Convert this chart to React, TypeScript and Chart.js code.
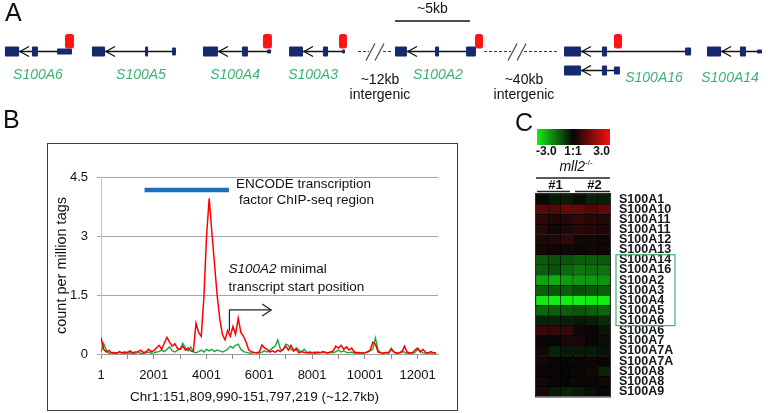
import React, { useEffect, useRef } from 'react';
import { Chart, registerables } from 'chart.js';

Chart.register(...registerables);

const FONT = "'Liberation Sans', Arial, Helvetica, sans-serif";

// ---------------- Panel A : gene track (positions in kb of the schematic) ----------------
const genes = [
  { name: 'S100A6', row: 0, intron: [1.27, 4.8], exons: [[0.33, 1.27, 'big'], [2.13, 2.53, 'big'], [3.8, 4.8, 'thin']], tss: [4.33, 4.93], labelAt: 2.53, labelRow: 0 },
  { name: 'S100A5', row: 0, intron: [7.0, 11.73], exons: [[6.13, 7.0, 'big'], [9.67, 9.87, 'big'], [11.47, 11.73, 'mid']], tss: null, labelAt: 9.4, labelRow: 0 },
  { name: 'S100A4', row: 0, intron: [14.53, 18.07], exons: [[13.53, 14.53, 'big'], [16.13, 16.53, 'big'], [17.8, 18.07, 'tiny']], tss: [17.53, 18.13], labelAt: 15.67, labelRow: 0 },
  { name: 'S100A3', row: 0, intron: [20.2, 23.0], exons: [[19.27, 20.2, 'big'], [21.53, 21.87, 'big'], [22.8, 23.0, 'tiny']], tss: [22.6, 23.13], labelAt: 20.87, labelRow: 0 },
  { name: 'S100A2', row: 0, intron: [27.13, 31.73], exons: [[26.33, 27.13, 'big'], [29.0, 29.27, 'big'], [31.07, 31.73, 'big']], tss: [31.67, 32.2], labelAt: 29.2, labelRow: 0 },
  { name: 'S100A16', row: 0, intron: [38.73, 46.07], exons: [[37.6, 38.73, 'big'], [40.13, 40.47, 'big'], [45.67, 46.07, 'mid']], tss: [40.93, 41.47], labelAt: null, labelRow: 1 },
  { name: 'S100A16', row: 1, intron: [38.73, 41.33], exons: [[37.6, 38.73, 'big'], [40.13, 40.47, 'big'], [40.93, 41.33, 'mid']], tss: null, labelAt: 43.6, labelRow: 1 },
  { name: 'S100A14', row: 0, intron: [48.07, 50.8], exons: [[47.13, 48.07, 'big'], [49.33, 49.73, 'big'], [50.47, 50.8, 'tiny']], tss: null, labelAt: 48.67, labelRow: 1 },
];
const trackBreaks = [
  { from: 23.87, to: 26.13, at: 25.0 },
  { from: 32.27, to: 37.13, at: 34.47 },
];
const intergenicLabels = [
  { text: '~12kb', at: 25.33 },
  { text: '~40kb', at: 34.93 },
];
const scaleBar = { from: 26.33, to: 31.33, text: '~5kb' };
const trackSpanKb = 51.2;

// ---------------- Panel B : ChIP-seq profile ----------------
const binStart = 1;
const binSize = 100;
const regionLength = 12772;
const redCounts = [
  0.42, 0.12, 0.05, 0.09, 0.03, 0.04, 0.02, 0.06, 0.03, 0.05,
  0.04, 0.08, 0.03, 0.05, 0.06, 0.1, 0.04, 0.05, 0.12, 0.06,
  0.08, 0.15, 0.22, 0.12, 0.28, 0.42, 0.3, 0.2, 0.26, 0.14,
  0.12, 0.2, 0.1, 0.15, 0.08, 0.06, 0.78, 0.55, 0.45, 1.45,
  3.0, 3.96, 3.1, 2.3, 1.5, 0.9, 0.5, 0.36, 0.6, 0.45,
  0.7, 0.5, 0.91, 0.55, 0.45, 0.3, 0.1, 0.06, 0.04, 0.03,
  0.05, 0.23, 0.15, 0.12, 0.05, 0.08, 0.04, 0.1, 0.06, 0.12,
  0.2, 0.1, 0.22, 0.08, 0.12, 0.03, 0.06, 0.04, 0.03, 0.05,
  0.04, 0.02, 0.05, 0.03, 0.06, 0.04, 0.03, 0.05, 0.08, 0.2,
  0.15, 0.22, 0.12, 0.18, 0.1, 0.15, 0.05, 0.03, 0.04, 0.02,
  0.03, 0.05, 0.1, 0.3, 0.25, 0.05, 0.03, 0.02, 0.04, 0.03,
  0.12, 0.05, 0.02, 0.03, 0.04, 0.2, 0.05, 0.02, 0.03, 0.1,
  0.15, 0.05, 0.12, 0.04, 0.02, 0.06, 0.03, 0.02,
];
const greenCounts = [
  0.05, 0.27, 0.1, 0.02, 0.03, 0.01, 0.02, 0.04, 0.02, 0.01,
  0.02, 0.03, 0.01, 0.02, 0.04, 0.02, 0.01, 0.03, 0.05, 0.02,
  0.03, 0.05, 0.06, 0.1, 0.06, 0.12, 0.18, 0.08, 0.05, 0.1,
  0.12, 0.27, 0.15, 0.08, 0.18, 0.05, 0.03, 0.06, 0.1, 0.05,
  0.12, 0.08, 0.12, 0.06, 0.1, 0.08, 0.05, 0.08, 0.12, 0.2,
  0.15, 0.22, 0.25, 0.12, 0.06, 0.04, 0.03, 0.02, 0.04, 0.03,
  0.02, 0.05, 0.08, 0.05, 0.1, 0.15, 0.2, 0.36, 0.12, 0.1,
  0.25, 0.22, 0.12, 0.08, 0.16, 0.1, 0.05, 0.12, 0.04, 0.02,
  0.03, 0.05, 0.02, 0.04, 0.03, 0.05, 0.02, 0.04, 0.03, 0.06,
  0.1, 0.05, 0.08, 0.04, 0.03, 0.05, 0.02, 0.03, 0.02, 0.04,
  0.03, 0.05, 0.08, 0.12, 0.41, 0.1, 0.03, 0.02, 0.04, 0.03,
  0.15, 0.05, 0.02, 0.03, 0.08, 0.04, 0.02, 0.03, 0.02, 0.04,
  0.12, 0.08, 0.03, 0.02, 0.04, 0.02, 0.03, 0.02,
];
const xTickPositions = [1, 1001, 2001, 3001, 4001, 5001, 6001, 7001, 8001, 9001, 10001, 11001, 12001];
const xLabelledTicks = [1, 2001, 4001, 6001, 8001, 10001, 12001];
const yTickValues = [0, 1.5, 3, 4.5];
const xTitle = 'Chr1:151,809,990-151,797,219 (~12.7kb)';
const yTitle = 'count per million tags';
const encodeRegion = [1650, 4850];
const encodeLevel = 4.17;
const encodeText = ['ENCODE transcription', 'factor ChIP-seq region'];
const encodeTextAt = [[5116, 4.32], [5230, 3.92]];
const tssArrow = { pos: 4868, from: 0.58, to: 1.12, end: 6450 };
const tssTextAt = [[4829, 2.16], [4829, 1.7]];

// ---------------- Panel C : heat map ----------------
const heatColumns = ['#1-1', '#1-2', '#1-3', '#2-1', '#2-2', '#2-3'];
const rowLabels = [
  'S100A1', 'S100A10', 'S100A11', 'S100A11', 'S100A12', 'S100A13', 'S100A14', 'S100A16', 'S100A2', 'S100A3',
  'S100A4', 'S100A5', 'S100A6', 'S100A6', 'S100A7', 'S100A7A', 'S100A7A', 'S100A8', 'S100A8', 'S100A9',
];
const heatValues = [
  [0.05, -0.25, -0.3, -0.1, -0.35, -0.3],
  [1.0, 0.95, 1.2, 1.15, 0.9, 1.1],
  [0.5, 0.3, 0.4, 0.55, 0.45, 0.4],
  [0.45, 0.2, 0.3, 0.5, 0.4, 0.3],
  [0.3, 0.4, 0.55, 0.15, 0.15, 0.1],
  [0.2, 0.15, 0.15, 0.1, 0.15, 0.15],
  [-1.05, -0.95, -1.0, -1.1, -1.1, -1.05],
  [-1.1, -0.95, -1.25, -1.4, -1.3, -1.35],
  [-2.0, -2.1, -1.9, -1.85, -1.85, -1.8],
  [-1.1, -1.0, -1.1, -0.9, -1.0, -1.1],
  [-2.85, -2.9, -2.9, -2.95, -2.85, -2.9],
  [-1.2, -1.1, -1.1, -1.0, -1.1, -1.2],
  [-0.35, -0.35, -0.35, -0.25, -0.3, -0.45],
  [0.65, 0.6, 0.6, 0.15, 0.05, -0.2],
  [0.05, 0.0, 0.25, 0.25, 0.05, -0.1],
  [0.15, -0.35, -0.25, -0.25, -0.25, -0.15],
  [0.15, 0.05, 0.0, 0.05, 0.1, 0.0],
  [0.05, 0.0, 0.0, 0.05, 0.15, -0.35],
  [0.15, 0.05, 0.0, 0.05, 0.05, 0.15],
  [0.25, -0.25, -0.35, -0.25, -0.15, 0.0],
];
const colorScaleLabels = ['-3.0', '1:1', '3.0'];
const colorScaleMax = 3;
const highlightRows = [6, 12];
const groupLabels = ['#1', '#2'];

// ---------------- styles ----------------
const NAVY = '#152a6e';
const TSS_RED = '#ff1414';
const GENE_GREEN = '#3cb374';
const exonHeight: Record<string, number> = { big: 10, mid: 8, thin: 6, tiny: 4 };
const trackRowY = [51.5, 70.5];
const labelRowY = [75, 78];

function heatColor(v: number) {
  const t = Math.max(-1, Math.min(1, v / colorScaleMax));
  const base = 6;
  if (t < 0) {
    const g = Math.round(base + -t * (245 - base));
    const rb = Math.round(base + -t * 14);
    return `rgb(${rb},${g},${rb})`;
  }
  const r = Math.round(base + t * (245 - base));
  const gb = Math.round(base + t * 10);
  return `rgb(${r},${gb},${gb})`;
}

// ---------------- Panel A chart ----------------
const geneTrackPlugin = {
  id: 'geneTrack',
  afterDatasetsDraw(chart: any) {
    const { ctx, scales } = chart;
    const px = (v: number) => scales.x.getPixelForValue(v);
    const py = (v: number) => scales.y.getPixelForValue(v);
    ctx.save();
    trackBreaks.forEach((b) => {
      const yc = py(trackRowY[0]);
      ctx.strokeStyle = '#333';
      ctx.lineWidth = 1;
      ctx.setLineDash([3, 2]);
      ctx.beginPath();
      ctx.moveTo(px(b.from), yc);
      ctx.lineTo(px(b.to), yc);
      ctx.stroke();
      ctx.setLineDash([]);
      const c = px(b.at);
      ctx.fillStyle = '#fff';
      ctx.fillRect(c - 6, yc - 3, 12, 6);
      ctx.strokeStyle = '#444';
      ctx.lineWidth = 1.2;
      [-4.5, 4.5].forEach((dx) => {
        ctx.beginPath();
        ctx.moveTo(c + dx - 4.5, yc + 9);
        ctx.lineTo(c + dx + 4.5, yc - 8);
        ctx.stroke();
      });
    });
    genes.forEach((g) => {
      const yc = py(trackRowY[g.row]);
      ctx.strokeStyle = '#111';
      ctx.lineWidth = 1.3;
      ctx.beginPath();
      ctx.moveTo(px(g.intron[0]), yc);
      ctx.lineTo(px(g.intron[1]), yc);
      ctx.stroke();
      const tip = px(g.intron[0]) + 1;
      ctx.beginPath();
      ctx.moveTo(tip + 9, yc - 5);
      ctx.lineTo(tip, yc);
      ctx.lineTo(tip + 9, yc + 5);
      ctx.stroke();
      ctx.fillStyle = NAVY;
      g.exons.forEach((e: any) => {
        const h = exonHeight[e[2]];
        const x0 = px(e[0]);
        const x1 = px(e[1]);
        ctx.beginPath();
        ctx.roundRect(x0, yc - h / 2, x1 - x0, h, 1);
        ctx.fill();
      });
      if (g.tss) {
        const x0 = px(g.tss[0]);
        const x1 = px(g.tss[1]);
        ctx.fillStyle = TSS_RED;
        ctx.beginPath();
        ctx.roundRect(x0, yc - 17.5, x1 - x0, 14.5, 2.5);
        ctx.fill();
      }
      if (g.labelAt !== null) {
        ctx.fillStyle = GENE_GREEN;
        ctx.font = `italic 14px ${FONT}`;
        ctx.textAlign = 'center';
        ctx.textBaseline = 'middle';
        ctx.fillText(g.name, px(g.labelAt), py(labelRowY[g.labelRow]));
      }
    });
    ctx.fillStyle = '#111';
    ctx.font = `14px ${FONT}`;
    ctx.textAlign = 'center';
    ctx.textBaseline = 'middle';
    intergenicLabels.forEach((l) => {
      ctx.fillText(l.text, px(l.at), py(80));
      ctx.fillText('intergenic', px(l.at), py(95));
    });
    ctx.strokeStyle = '#111';
    ctx.lineWidth = 1.3;
    ctx.beginPath();
    ctx.moveTo(px(scaleBar.from), py(21));
    ctx.lineTo(px(scaleBar.to), py(21));
    ctx.stroke();
    ctx.fillText(scaleBar.text, px((scaleBar.from + scaleBar.to) / 2), py(9));
    ctx.restore();
  },
};

function GeneTrack() {
  const ref = useRef<HTMLCanvasElement>(null);
  useEffect(() => {
    const chart = new Chart(ref.current!, {
      type: 'scatter',
      data: { datasets: [] },
      options: {
        responsive: false,
        animation: false,
        devicePixelRatio: 1,
        layout: { padding: 0 },
        scales: {
          x: { type: 'linear', min: 0, max: trackSpanKb, display: false },
          y: { type: 'linear', min: 0, max: 110, reverse: true, display: false },
        },
        plugins: { legend: { display: false }, tooltip: { enabled: false } },
      },
      plugins: [geneTrackPlugin],
    } as any);
    return () => chart.destroy();
  }, []);
  return <canvas ref={ref} width={768} height={110} style={{ position: 'absolute', left: 0, top: 0, width: 768, height: 110 }} />;
}

// ---------------- Panel B chart ----------------
const chipAnnotations = {
  id: 'chipAnnotations',
  afterDatasetsDraw(chart: any) {
    const { ctx, scales, chartArea } = chart;
    const px = (v: number) => scales.x.getPixelForValue(v);
    const py = (v: number) => scales.y.getPixelForValue(v);
    ctx.save();
    ctx.strokeStyle = '#1f6fb8';
    ctx.lineWidth = 4.5;
    ctx.beginPath();
    ctx.moveTo(px(encodeRegion[0]), py(encodeLevel));
    ctx.lineTo(px(encodeRegion[1]), py(encodeLevel));
    ctx.stroke();

    ctx.fillStyle = '#111';
    ctx.textAlign = 'left';
    ctx.textBaseline = 'middle';
    ctx.font = `13.5px ${FONT}`;
    encodeText.forEach((t, i) => ctx.fillText(t, px(encodeTextAt[i][0]), py(encodeTextAt[i][1])));

    const x0 = px(tssTextAt[0][0]);
    ctx.font = `italic 13.5px ${FONT}`;
    ctx.fillText('S100A2', x0, py(tssTextAt[0][1]));
    const w = ctx.measureText('S100A2').width;
    ctx.font = `13.5px ${FONT}`;
    ctx.fillText(' minimal', x0 + w, py(tssTextAt[0][1]));
    ctx.fillText('transcript start position', px(tssTextAt[1][0]), py(tssTextAt[1][1]));

    ctx.strokeStyle = '#222';
    ctx.lineWidth = 1.2;
    const ax = px(tssArrow.pos);
    const ay = py(tssArrow.to);
    const ex = px(tssArrow.end);
    ctx.beginPath();
    ctx.moveTo(ax, py(tssArrow.from));
    ctx.lineTo(ax, ay);
    ctx.lineTo(ex, ay);
    ctx.stroke();
    ctx.beginPath();
    ctx.moveTo(ex - 9, ay - 6);
    ctx.lineTo(ex, ay);
    ctx.lineTo(ex - 9, ay + 6);
    ctx.stroke();

    ctx.font = `13.5px ${FONT}`;
    ctx.textAlign = 'center';
    ctx.fillText(xTitle, chart.width / 2 + 2, chartArea.bottom + 43);
    ctx.restore();
  },
};

function ChipSeqChart() {
  const ref = useRef<HTMLCanvasElement>(null);
  useEffect(() => {
    const positions = redCounts.map((_, i) => binStart + i * binSize);
    const chart = new Chart(ref.current!, {
      type: 'line',
      data: {
        datasets: [
          { label: 'red', data: positions.map((p, i) => ({ x: p, y: redCounts[i] })), borderColor: '#ff0000', borderWidth: 1.5, pointRadius: 0, tension: 0, order: 0 },
          { label: 'green', data: positions.map((p, i) => ({ x: p, y: greenCounts[i] })), borderColor: '#1fa33c', borderWidth: 1.4, pointRadius: 0, tension: 0, order: 1 },
        ],
      },
      options: {
        responsive: false,
        animation: false,
        devicePixelRatio: 1,
        layout: { padding: { top: 33, right: 19, left: 0, bottom: 0 } },
        scales: {
          x: {
            type: 'linear',
            min: 1,
            max: regionLength,
            afterBuildTicks: (s: any) => { s.ticks = xTickPositions.map((v) => ({ value: v })); },
            afterFit: (s: any) => { s.height = 56; },
            grid: { drawOnChartArea: false, drawTicks: true, tickLength: 5, color: '#8a8a8a' },
            border: { color: '#9a9a9a' },
            ticks: {
              autoSkip: false,
              maxRotation: 0,
              padding: 9,
              color: '#111',
              font: { family: FONT, size: 13 },
              callback: (v: any) => (xLabelledTicks.includes(v) ? String(v) : ''),
            },
          },
          y: {
            min: 0,
            max: 4.5,
            afterBuildTicks: (s: any) => { s.ticks = yTickValues.map((v) => ({ value: v })); },
            afterFit: (s: any) => { s.width = 53; },
            grid: { color: '#a6a6a6', tickLength: 4 },
            border: { color: '#c4c4c4' },
            ticks: { padding: 9, color: '#111', font: { family: FONT, size: 13 } },
            title: { display: true, text: yTitle, color: '#111', font: { family: FONT, size: 14.5 }, padding: { top: 5.6, bottom: 0 } },
          },
        },
        plugins: { legend: { display: false }, tooltip: { enabled: false } },
      },
      plugins: [chipAnnotations],
    } as any);
    return () => chart.destroy();
  }, []);
  return (
    <div style={{ position: 'absolute', left: 47, top: 143, width: 409, height: 266, border: '1px solid #3c3c3c', background: '#fff' }}>
      <canvas ref={ref} width={409} height={266} style={{ display: 'block', width: 409, height: 266 }} />
    </div>
  );
}

// ---------------- Panel C chart ----------------
const heatDecor = {
  id: 'heatDecor',
  afterDatasetsDraw(chart: any) {
    const { ctx, chartArea: ca, scales } = chart;
    const cx = (ca.left + ca.right) / 2;
    ctx.save();
    ctx.strokeStyle = '#2a2a2a';
    ctx.lineWidth = 1;
    ctx.strokeRect(ca.left - 0.5, ca.top - 0.5, ca.right - ca.left + 1, ca.bottom - ca.top + 1);
    const grad = ctx.createLinearGradient(ca.left, 0, ca.right, 0);
    grad.addColorStop(0, heatColor(-colorScaleMax));
    grad.addColorStop(0.5, heatColor(0));
    grad.addColorStop(1, heatColor(colorScaleMax));
    ctx.fillStyle = grad;
    ctx.fillRect(ca.left + 1, ca.top - 65, ca.right - ca.left - 1, 16);
    ctx.fillStyle = '#111';
    ctx.font = `bold 12px ${FONT}`;
    ctx.textBaseline = 'middle';
    ctx.textAlign = 'left';
    ctx.fillText(colorScaleLabels[0], ca.left, ca.top - 42);
    ctx.textAlign = 'center';
    ctx.fillText(colorScaleLabels[1], cx, ca.top - 42);
    ctx.textAlign = 'right';
    ctx.fillText(colorScaleLabels[2], ca.right, ca.top - 42);
    ctx.font = `italic 14px ${FONT}`;
    ctx.textAlign = 'left';
    const mw = ctx.measureText('mll2').width;
    ctx.font = `8px ${FONT}`;
    const sw = ctx.measureText('-/-').width;
    const mx = cx + 3 - (mw + sw) / 2;
    ctx.font = `italic 14px ${FONT}`;
    ctx.fillText('mll2', mx, ca.top - 27);
    ctx.font = `8px ${FONT}`;
    ctx.fillText('-/-', mx + mw, ca.top - 31);
    ctx.strokeStyle = '#222';
    ctx.lineWidth = 1.3;
    ctx.beginPath();
    ctx.moveTo(ca.left, ca.top - 16);
    ctx.lineTo(ca.right, ca.top - 16);
    ctx.stroke();
    const groups = [[ca.left + 1, ca.left + 34], [ca.left + 39, ca.right]];
    ctx.font = `bold 13px ${FONT}`;
    ctx.textAlign = 'center';
    groups.forEach((gr, i) => {
      ctx.fillText(groupLabels[i], (gr[0] + gr[1]) / 2 + 2, ca.top - 9);
      ctx.beginPath();
      ctx.moveTo(gr[0], ca.top - 2.5);
      ctx.lineTo(gr[1], ca.top - 2.5);
      ctx.stroke();
    });
    ctx.strokeStyle = '#3cb371';
    ctx.lineWidth = 1.2;
    const y0 = scales.y.getPixelForValue(highlightRows[0]);
    const y1 = scales.y.getPixelForValue(highlightRows[1] + 1);
    ctx.strokeRect(ca.right + 6, y0, 59, y1 - y0);
    ctx.restore();
  },
};

function HeatMap() {
  const ref = useRef<HTMLCanvasElement>(null);
  useEffect(() => {
    const chart = new Chart(ref.current!, {
      type: 'bar',
      data: {
        labels: heatColumns,
        datasets: rowLabels.map((name, r) => ({
          label: name,
          data: heatColumns.map(() => 1),
          backgroundColor: heatValues[r].map(heatColor),
          borderColor: '#000',
          borderWidth: 0.5,
          borderSkipped: false,
          barPercentage: 1,
          categoryPercentage: 1,
        })),
      },
      options: {
        responsive: false,
        animation: false,
        devicePixelRatio: 1,
        layout: { padding: { left: 16, top: 84, bottom: 5, right: 0 } },
        scales: {
          x: { stacked: true, display: false },
          y: {
            stacked: true,
            min: 0,
            max: rowLabels.length,
            reverse: true,
            position: 'right',
            afterBuildTicks: (s: any) => { s.ticks = rowLabels.map((_, i) => ({ value: i + 0.5 })); },
            afterFit: (s: any) => { s.width = 158; },
            grid: { display: false, drawTicks: false },
            border: { display: false },
            ticks: {
              autoSkip: false,
              padding: 9,
              color: '#151515',
              font: { family: FONT, size: 12.5, weight: 'bold' },
              callback: (v: any) => rowLabels[Math.floor(v)],
            },
          },
        },
        plugins: { legend: { display: false }, tooltip: { enabled: false } },
      },
      plugins: [heatDecor],
    } as any);
    return () => chart.destroy();
  }, []);
  return <canvas ref={ref} width={248} height={303} style={{ position: 'absolute', left: 520, top: 110, width: 248, height: 303 }} />;
}

const panelLabel = (text: string, left: number, top: number) => (
  <div style={{ position: 'absolute', left, top, fontFamily: FONT, fontSize: 25, lineHeight: '25px', color: '#111' }}>{text}</div>
);

export default function App() {
  return (
    <div style={{ position: 'absolute', left: 0, top: 0, width: 768, height: 413, background: '#fff', overflow: 'hidden' }}>
      <GeneTrack />
      <ChipSeqChart />
      <HeatMap />
      {panelLabel('A', 5, 0)}
      {panelLabel('B', 3, 107)}
      {panelLabel('C', 515, 110)}
    </div>
  );
}
